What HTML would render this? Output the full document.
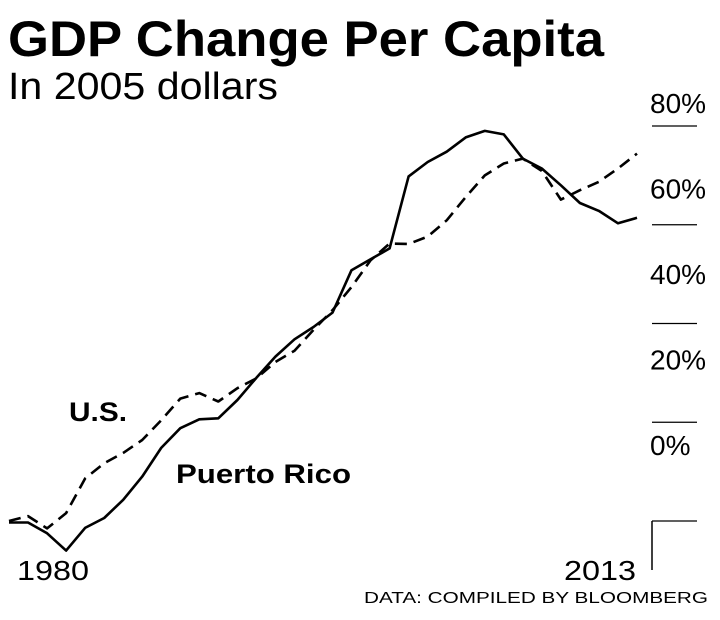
<!DOCTYPE html>
<html><head><meta charset="utf-8"><style>
html,body{margin:0;padding:0;background:#fff;}
svg{display:block;font-family:"Liberation Sans",sans-serif;}
</style></head><body>
<svg id="chart" width="720" height="620" viewBox="0 0 720 620">
<text x="8" y="56" font-size="50" font-weight="bold" textLength="596" lengthAdjust="spacingAndGlyphs">GDP Change Per Capita</text>
<text x="8" y="99" font-size="38" textLength="270" lengthAdjust="spacingAndGlyphs">In 2005 dollars</text>
<g id="yaxis"></g>
<line x1="652" y1="521" x2="652" y2="570" stroke="#000" stroke-width="1.5"/>
<g id="series"></g>
<text x="69" y="421" font-size="27" font-weight="bold" textLength="58" lengthAdjust="spacingAndGlyphs">U.S.</text>
<text x="176" y="483" font-size="27" font-weight="bold" textLength="175" lengthAdjust="spacingAndGlyphs">Puerto Rico</text>
<text x="53" y="580" font-size="28" text-anchor="middle" textLength="72" lengthAdjust="spacingAndGlyphs">1980</text>
<text x="600" y="580" font-size="28" text-anchor="middle" textLength="72" lengthAdjust="spacingAndGlyphs">2013</text>
<text x="708" y="603" font-size="16" text-anchor="end" textLength="344" lengthAdjust="spacingAndGlyphs">DATA: COMPILED BY BLOOMBERG</text>
</svg>
<script>
const years = [1980,1981,1982,1983,1984,1985,1986,1987,1988,1989,1990,1991,1992,1993,1994,1995,1996,1997,1998,1999,2000,2001,2002,2003,2004,2005,2006,2007,2008,2009,2010,2011,2012,2013];
const puertoRico = [-0.3,-0.3,-2.5,-6,-1.4,0.6,4.3,9,14.8,18.8,20.6,20.8,24.5,29,33.3,36.8,39.3,42.2,50.8,53,55.2,69.8,72.7,74.8,77.7,79,78.3,73.4,71.4,68,64.4,62.8,60.3,61.4];
const usa = [0,1,-1.5,1.6,8.6,11.7,13.8,16.4,20.4,24.8,25.9,24.2,26.9,28.9,32.2,34.5,38.7,42.7,47.4,52.8,56.2,56.1,57.6,60.9,65.6,70,72.4,73.4,70.9,65.1,67,68.7,71.4,74.4];
const yTicks = [80,60,40,20,0];
const yTickLabels = ["80%","60%","40%","20%","0%"];

const NS = "http://www.w3.org/2000/svg";
const x0 = 9, x1 = 637, yZero = 521, yPerPct = 395/80;
function xScale(i){ return x0 + (x1 - x0) * (i / (years.length - 1)); }
function yScale(v){ return yZero - v * yPerPct; }

const yaxis = document.getElementById('yaxis');
yTicks.forEach((t, k) => {
  const ln = document.createElementNS(NS, 'line');
  ln.setAttribute('x1', 652); ln.setAttribute('x2', 697);
  ln.setAttribute('y1', yScale(t)); ln.setAttribute('y2', yScale(t));
  ln.setAttribute('stroke', '#000'); ln.setAttribute('stroke-width', '1.3');
  
  
  yaxis.appendChild(ln);
  const tx = document.createElementNS(NS, 'text');
  tx.setAttribute('x', 650);
  tx.setAttribute('y', 113 + k * 85.5);
  tx.setAttribute('font-size', '28');
  tx.textContent = yTickLabels[k];
  
  
  yaxis.appendChild(tx);
});

const g = document.getElementById('series');
function drawLine(vals, dash, name){
  const p = document.createElementNS(NS, 'polyline');
  p.setAttribute('points', vals.map((v,i) => xScale(i).toFixed(1) + ',' + yScale(v).toFixed(1)).join(' '));
  p.setAttribute('fill', 'none');
  p.setAttribute('stroke', '#000');
  p.setAttribute('stroke-width', '2.6');
  p.setAttribute('stroke-linejoin', 'round');
  if (dash) p.setAttribute('stroke-dasharray', '12 7');
  
  
  g.appendChild(p);
}
drawLine(usa, true, 'us-line');
drawLine(puertoRico, false, 'puerto-rico-line');
</script>
</body></html>
